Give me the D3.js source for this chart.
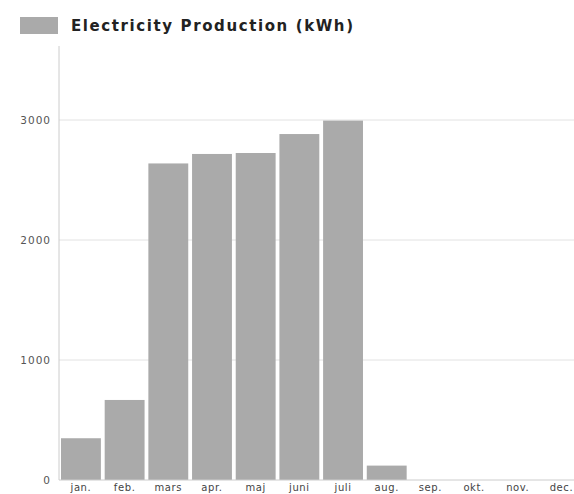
<!DOCTYPE html>
<html>
<head>
<meta charset="utf-8">
<script src="https://cdn.jsdelivr.net/npm/d3@7"></script>
<style>
  body { margin: 0; background: #fff; }
  svg { display: block; font-family: "DejaVu Sans", sans-serif; }
</style>
</head>
<body>
<svg id="vis" width="574" height="494"></svg>
<script>
// chart data
const months = ["jan.", "feb.", "mars", "apr.", "maj", "juni", "juli", "aug.", "sep.", "okt.", "nov.", "dec."];
const production = [348, 667, 2638, 2717, 2725, 2883, 2995, 120, 0, 0, 0, 0];
const yTicks = [0, 1000, 2000, 3000];
const seriesName = "Electricity Production (kWh)";

const svg = d3.select("svg#vis");
const plot = { left: 59, right: 574, top: 48, bottom: 480 };
const step = 43.7;

let x = d3.scaleBand()
  .domain(months)
  .range([plot.left, plot.left + step * 12])
  .paddingInner(3.8 / step)
  .paddingOuter(2 / step);

let y = d3.scaleLinear()
  .domain([0, 3600])
  .range([plot.bottom, plot.top]);

// gridlines
svg.append("g").attr("id", "grid")
  .selectAll("line")
  .data(yTicks.filter(d => d > 0))
  .enter().append("line")
  .attr("x1", plot.left)
  .attr("x2", plot.right)
  .attr("y1", d => y(d))
  .attr("y2", d => y(d))
  .attr("stroke", "#e2e2e2")
  .attr("stroke-width", 1);

// bars
svg.append("g").attr("id", "bars")
  .selectAll("rect")
  .data(production)
  .enter().append("rect")
  .attr("x", (d, i) => x(months[i]))
  .attr("width", x.bandwidth())
  .attr("y", d => y(d))
  .attr("height", d => plot.bottom - y(d))
  .attr("fill", "#aaaaaa");

// axes lines
svg.append("line")
  .attr("x1", plot.left).attr("x2", plot.left)
  .attr("y1", plot.top - 2).attr("y2", plot.bottom)
  .attr("stroke", "#cccccc");
svg.append("line")
  .attr("x1", plot.left).attr("x2", plot.right)
  .attr("y1", plot.bottom).attr("y2", plot.bottom)
  .attr("stroke", "#cccccc");

// y tick labels
svg.append("g").attr("id", "y-labels")
  .selectAll("text")
  .data(yTicks)
  .enter().append("text")
  .attr("x", 51)
  .attr("y", d => y(d))
  .attr("dy", "0.35em")
  .attr("text-anchor", "end")
  .attr("font-size", 10.5)
  .attr("letter-spacing", 1)
  .attr("fill", "#555")
  .text(d => d);

// x tick labels
svg.append("g").attr("id", "x-labels")
  .selectAll("text")
  .data(months)
  .enter().append("text")
  .attr("x", d => x(d) + x.bandwidth() / 2)
  .attr("y", 491)
  .attr("text-anchor", "middle")
  .attr("font-size", 10)
  .attr("letter-spacing", 0.6)
  .attr("fill", "#444")
  .text(d => d);

// legend
const legend = svg.append("g").attr("id", "legend");
legend.append("rect")
  .attr("x", 20).attr("y", 17)
  .attr("width", 38).attr("height", 17)
  .attr("fill", "#aaaaaa");
legend.append("text")
  .attr("x", 71).attr("y", 31)
  .attr("font-size", 15)
  .attr("font-weight", "bold")
  .attr("letter-spacing", 1.6)
  .attr("fill", "#222")
  .text(seriesName);
</script>
</body>
</html>
